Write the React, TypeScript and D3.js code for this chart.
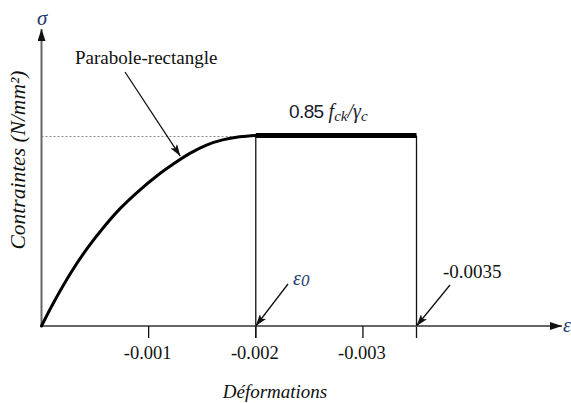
import React from "react";
import * as d3 from "d3";

// ---- data ----
const curveStrain = [0, -0.00012, -0.00028, -0.00043, -0.00059, -0.00074, -0.00092, -0.00107, -0.00123, -0.00138, -0.00154, -0.00169, -0.00185, -0.002];
const curveStress = [0, 0.13, 0.285, 0.41, 0.525, 0.62, 0.715, 0.785, 0.85, 0.905, 0.95, 0.977, 0.993, 1];
const plateauStrain = [-0.002, -0.0035];
const plateauStress = [1, 1];
const tickValues = [-0.001, -0.002, -0.003];
const tickLabels = ["-0.001", "-0.002", "-0.003"];
const eps0 = -0.002;
const epsCu = -0.0035;
const epsCuLabel = "-0.0035";

const W = 571, H = 403;
const x0 = 41.5, y0 = 326;

const SERIF = '"Liberation Serif", "Times New Roman", Times, serif';
const SANS = '"Liberation Sans", Arial, sans-serif';

export default function App() {
  const x = d3.scaleLinear().domain([0, -0.0035]).range([x0, 416.5]);
  const y = d3.scaleLinear().domain([0, 1]).range([y0, 135.5]);
  const line = d3
    .line<[number, number]>()
    .x((d) => x(d[0]))
    .y((d) => y(d[1]))
    .curve(d3.curveCatmullRom.alpha(0.5));
  const curvePts = curveStrain.map((s, i) => [s, curveStress[i]] as [number, number]);
  const platPts = plateauStrain.map((s, i) => [s, plateauStress[i]] as [number, number]);
  const txt = "#111";
  const navy = "#1e3a6e";
  const serifStyle = { fontFamily: SERIF };
  const serifItalic = { fontFamily: SERIF, fontStyle: "italic" as const };
  // annotation target on curve
  const annIdx = 8;
  const annX = x(curveStrain[annIdx]) + 7;
  const annY = y(curveStress[annIdx]) - 8;

  return (
    <svg
      width={W}
      height={H}
      style={{ position: "absolute", left: 0, top: 0, background: "#fff" }}
    >
      <defs>
        <marker id="ah" viewBox="0 0 12 8" refX="12" refY="4" markerWidth="12" markerHeight="8" markerUnits="userSpaceOnUse" orient="auto">
          <path d="M0,0 L12,4 L0,8 L3,4 Z" fill="#111" />
        </marker>
        <marker id="axh" viewBox="0 0 12 8" refX="12" refY="4" markerWidth="12" markerHeight="8" markerUnits="userSpaceOnUse" orient="auto">
          <path d="M0,0 L12,4 L0,8 Z" fill="#111" />
        </marker>
      </defs>

      {/* dashed reference line */}
      <line x1={x0} x2={x(eps0)} y1={y(1) + 1} y2={y(1) + 1} stroke="#888" strokeWidth={1} strokeDasharray="2,2" />

      {/* vertical lines at eps0 and epsCu */}
      {[eps0, epsCu].map((e) => (
        <line key={e} x1={x(e)} x2={x(e)} y1={y(1)} y2={y0 + 12} stroke="#111" strokeWidth={1.3} />
      ))}

      {/* axes */}
      <line x1={x0} x2={x0} y1={y0 + 1} y2={29} stroke="#666" strokeWidth={2} markerEnd="url(#axh)" />
      <line x1={x0 - 1} x2={562} y1={y0} y2={y0} stroke="#666" strokeWidth={2} markerEnd="url(#axh)" />

      {/* ticks */}
      {tickValues.map((t, i) => (
        <g key={t}>
          <line x1={x(t)} x2={x(t)} y1={y0} y2={y0 + 12} stroke="#111" strokeWidth={1.3} />
          <text x={x(t) - 1} y={359} textAnchor="middle" fontSize={18.5} fill={txt} style={serifStyle}>
            {tickLabels[i]}
          </text>
        </g>
      ))}

      {/* curve and plateau */}
      <path d={line(curvePts) || ""} fill="none" stroke="#000" strokeWidth={3} strokeLinecap="round" />
      <path d={d3.line<[number, number]>().x((d) => x(d[0])).y((d) => y(d[1]))(platPts) || ""} fill="none" stroke="#000" strokeWidth={5} />

      {/* axis symbols */}
      <text x={37} y={25} fontSize={21} fill={navy} style={serifItalic}>σ</text>
      <text x={563} y={332} fontSize={20} fill={navy} style={serifItalic}>ε</text>

      {/* axis titles */}
      <text x={275} y={398} textAnchor="middle" fontSize={19} fill={txt} style={serifItalic}>Déformations</text>
      <text transform="translate(25,160) rotate(-90)" textAnchor="middle" fontSize={21.5} fill={txt} style={serifItalic}>
        Contraintes (N/mm²)
      </text>

      {/* Parabole-rectangle annotation */}
      <text x={75} y={64} fontSize={19} fill={txt} style={serifStyle}>Parabole-rectangle</text>
      <line x1={125} y1={72} x2={annX} y2={annY} stroke="#111" strokeWidth={1.3} markerEnd="url(#ah)" />

      {/* plateau label */}
      <text x={289} y={118} fill="#1a1a2e">
        <tspan style={{ fontFamily: SANS }} fontSize={19} letterSpacing={-0.6}>0.85</tspan>
        <tspan dx={5} style={serifItalic} fontSize={20}>f</tspan>
        <tspan style={serifItalic} fontSize={15} dy={3}>ck</tspan>
        <tspan style={serifItalic} fontSize={20} dy={-3}>/γ</tspan>
        <tspan style={serifItalic} fontSize={15} dy={3}>c</tspan>
      </text>

      {/* eps0 annotation */}
      <text x={293} y={285} fontSize={20} fill={navy} style={serifItalic}>
        ε<tspan fontSize={17} dy={1}>0</tspan>
      </text>
      <line x1={288} y1={284} x2={x(eps0)} y2={y0} stroke="#111" strokeWidth={1.3} markerEnd="url(#ah)" />

      {/* epsCu annotation */}
      <text x={443} y={278} fontSize={19} fill={txt} style={serifStyle}>{epsCuLabel}</text>
      <line x1={450} y1={285} x2={x(epsCu)} y2={y0} stroke="#111" strokeWidth={1.3} markerEnd="url(#ah)" />
    </svg>
  );
}
